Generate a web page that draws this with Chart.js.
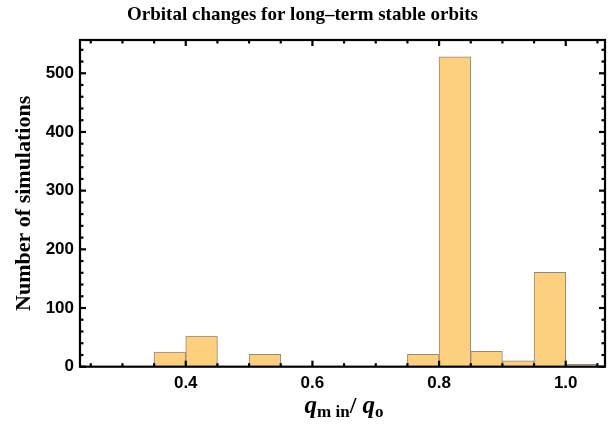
<!DOCTYPE html>
<html>
<head>
<meta charset="utf-8">
<script src="https://cdn.jsdelivr.net/npm/chart.js@4.4.1/dist/chart.umd.min.js"></script>
<style>
  html, body { margin: 0; padding: 0; background: #fff; }
</style>
</head>
<body>
<canvas id="chart" width="609" height="425"></canvas>
<script>
// Histogram bins (left edges) and counts
const binStarts = [0.35, 0.40, 0.50, 0.75, 0.80, 0.85, 0.90, 0.95, 1.00];
const binWidth = 0.05;
const counts = [25, 52, 21, 21, 528, 26, 10, 161, 4];

// Axis ranges and ticks
const xRange = [0.233, 1.062];
const yRange = [0, 556.7];
const xLabelTicks = [0.4, 0.6, 0.8, 1.0];
const yLabelTicks = [0, 100, 200, 300, 400, 500];
const xMinorTicks = [0.25, 0.3, 0.35, 0.45, 0.5, 0.55, 0.65, 0.7, 0.75, 0.85, 0.9, 0.95, 1.05];
const yMinorTicks = [20, 40, 60, 80, 120, 140, 160, 180, 220, 240, 260, 280, 320, 340, 360, 380, 420, 440, 460, 480, 520, 540];

const titleText = 'Orbital changes for long\u2013term stable orbits';
const yTitleText = 'Number of simulations';

const barData = binStarts.map((s, i) => ({ x: s + binWidth / 2, y: counts[i] }));

// Frame, inward ticks on all four sides and the x title with subscripts
const frameTicks = {
  id: 'frameTicks',
  afterDraw(chart) {
    const ctx = chart.ctx;
    const a = chart.chartArea;
    const xs = chart.scales.x;
    const ys = chart.scales.y;
    ctx.save();
    ctx.strokeStyle = '#000';
    ctx.lineWidth = 2.2;
    const tick = (x1, y1, x2, y2) => {
      ctx.beginPath();
      ctx.moveTo(x1, y1);
      ctx.lineTo(x2, y2);
      ctx.stroke();
    };
    xLabelTicks.concat(xMinorTicks).forEach(v => {
      const px = xs.getPixelForValue(v);
      const len = xLabelTicks.includes(v) ? 6 : 3.5;
      tick(px, a.bottom, px, a.bottom - len);
      tick(px, a.top, px, a.top + len);
    });
    yLabelTicks.concat(yMinorTicks).forEach(v => {
      const py = ys.getPixelForValue(v);
      const len = yLabelTicks.includes(v) ? 6 : 3.5;
      tick(a.left, py, a.left + len, py);
      tick(a.right, py, a.right - len, py);
    });
    ctx.lineWidth = 2.2;
    ctx.strokeRect(a.left, a.top, a.right - a.left, a.bottom - a.top);

    // x axis title: q_min / q_o
    const big = 'italic bold 25px "Liberation Serif"';
    const bigUp = 'bold 24px "Liberation Serif"';
    const small = 'bold 17px "Liberation Serif"';
    const parts = [
      { t: 'q', f: big, dy: 0 },
      { t: 'm in', f: small, dy: 4 },
      { t: '/ ', f: bigUp, dy: 0 },
      { t: 'q', f: big, dy: 0 },
      { t: 'o', f: small, dy: 4 }
    ];
    let total = 0;
    parts.forEach(p => { ctx.font = p.f; p.w = ctx.measureText(p.t).width; total += p.w; });
    let cx = 344 - total / 2;
    const baseY = 413;
    ctx.fillStyle = '#000';
    ctx.textBaseline = 'alphabetic';
    ctx.textAlign = 'left';
    parts.forEach(p => {
      ctx.font = p.f;
      ctx.fillText(p.t, cx, baseY + p.dy);
      cx += p.w;
    });
    ctx.restore();
  }
};

new Chart(document.getElementById('chart'), {
  type: 'bar',
  data: {
    datasets: [{
      data: barData,
      backgroundColor: 'rgb(252, 208, 127)',
      borderColor: 'rgba(140, 125, 100, 0.9)',
      borderWidth: 1,
      borderSkipped: false,
      barPercentage: 1,
      categoryPercentage: 1
    }]
  },
  options: {
    responsive: false,
    animation: false,
    layout: { padding: { right: 4 } },
    plugins: {
      legend: { display: false },
      tooltip: { enabled: false },
      title: {
        display: true,
        text: titleText,
        color: '#000',
        font: { family: 'Liberation Serif', size: 19, weight: 'bold' },
        padding: { top: 4, bottom: 13.2 }
      }
    },
    scales: {
      x: {
        type: 'linear',
        offset: false,
        min: xRange[0],
        max: xRange[1],
        grid: { display: false, drawTicks: false, offset: false },
        border: { display: false },
        afterBuildTicks: s => { s.ticks = xLabelTicks.map(v => ({ value: v })); },
        afterFit: s => { s.height = 58.3; },
        ticks: {
          color: '#000',
          padding: 6,
          maxRotation: 0,
          autoSkip: false,
          font: { family: 'Liberation Sans', size: 17, weight: 'bold' },
          callback: v => Number(v).toFixed(1)
        }
      },
      y: {
        min: yRange[0],
        max: yRange[1],
        grid: { display: false, drawTicks: false },
        border: { display: false },
        afterBuildTicks: s => { s.ticks = yLabelTicks.map(v => ({ value: v })); },
        afterFit: s => { s.width = 80; },
        ticks: {
          color: '#000',
          padding: 6,
          font: { family: 'Liberation Sans', size: 17, weight: 'bold' },
          callback: v => String(v)
        },
        title: {
          display: true,
          text: yTitleText,
          color: '#000',
          font: { family: 'Liberation Serif', size: 22, weight: 'bold' },
          padding: { top: 11, bottom: 0 }
        }
      }
    }
  },
  plugins: [frameTicks]
});
</script>
</body>
</html>
